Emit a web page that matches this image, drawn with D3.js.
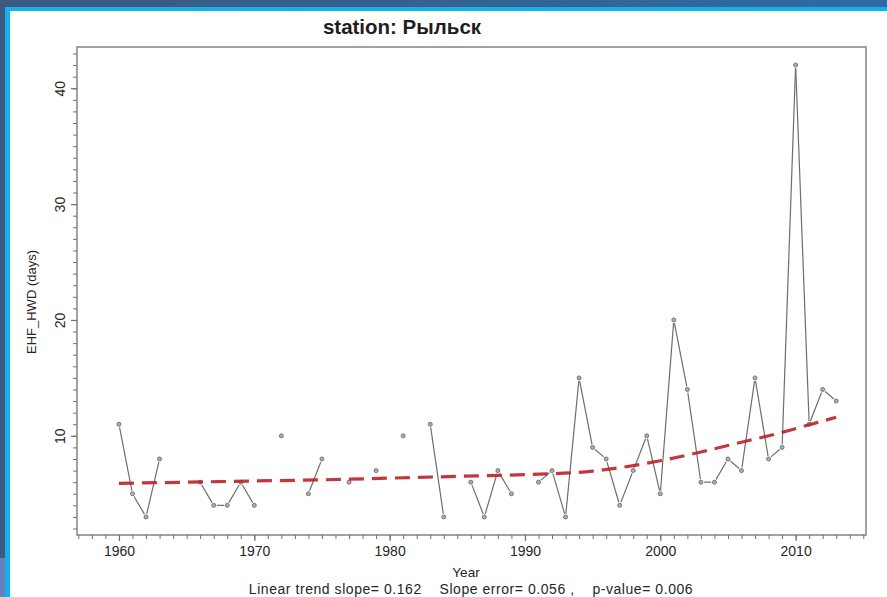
<!DOCTYPE html>
<html><head><meta charset="utf-8">
<script src="https://cdn.jsdelivr.net/npm/d3@7"></script>
<style>html,body{margin:0;padding:0;background:#fff;}svg{display:block;}</style>
</head><body>
<svg id="chart" width="887" height="597"></svg>
<script>
// ---- data ----
const years = [1960,1961,1962,1963,1964,1965,1966,1967,1968,1969,1970,1971,1972,1973,1974,1975,1976,1977,1978,1979,1980,1981,1982,1983,1984,1985,1986,1987,1988,1989,1990,1991,1992,1993,1994,1995,1996,1997,1998,1999,2000,2001,2002,2003,2004,2005,2006,2007,2008,2009,2010,2011,2012,2013];
const hwd = [11,5,3,8,null,null,6,4,4,6,4,null,10,null,5,8,null,6,null,7,null,10,null,11,3,null,6,3,7,5,null,6,7,3,15,9,8,4,7,10,5,20,14,6,6,8,7,15,8,9,42,11,14,13];
const trendYears = [1960,1965,1970,1975,1980,1985,1990,1995,2000,2003,2006,2009,2011,2013];
const trendValues = [5.9,6.0,6.1,6.2,6.35,6.5,6.65,6.95,7.85,8.6,9.45,10.3,10.95,11.6];
const xMajorTicks = [1960,1970,1980,1990,2000,2010];
const yMajorTicks = [10,20,30,40];
const titleText = "station: Рыльск";
const yLabel = "EHF_HWD (days)";
const xLabel = "Year";
const statsText = "Linear trend slope= 0.162    Slope error= 0.056 ,    p-value= 0.006";

// ---- layout ----
const svg = d3.select("#chart");
const W = 887, H = 597;
const box = {left: 77, right: 866, top: 47, bottom: 535};

// frame background
const defs = svg.append("defs");
const grad = defs.append("linearGradient").attr("id","topg").attr("x1","0").attr("x2","1").attr("y1","0").attr("y2","0");
grad.append("stop").attr("offset","0%").attr("stop-color","#3d5880");
grad.append("stop").attr("offset","100%").attr("stop-color","#2f6aa2");
svg.append("rect").attr("x",0).attr("y",0).attr("width",W).attr("height",H).attr("fill","url(#topg)");
svg.append("rect").attr("x",0).attr("y",30).attr("width",6).attr("height",528).attr("fill","#3d5a82");
svg.append("rect").attr("x",0).attr("y",558).attr("width",6).attr("height",H-558).attr("fill","#6b7fc0");
svg.append("rect").attr("x",5).attr("y",7).attr("width",W-5).attr("height",H-7).attr("fill","#14b2ea");
svg.append("rect").attr("x",10).attr("y",11).attr("width",W-10).attr("height",H-11).attr("fill","#ffffff");

const x = d3.scaleLinear().domain([1956.9, 2015.2]).range([box.left, box.right]);
const y = d3.scaleLinear().domain([1.44, 43.56]).range([box.bottom, box.top]);

const font = "'Liberation Sans', Arial, sans-serif";
const axisCol = "#707070";
const textCol = "#262626";

// plot box
svg.append("rect").attr("x",box.left).attr("y",box.top)
  .attr("width",box.right-box.left).attr("height",box.bottom-box.top)
  .attr("fill","none").attr("stroke","#8a8a8a").attr("stroke-width",1.6);

// x axis
const xMinor = d3.range(1957, 2016);
const xAxis = d3.axisBottom(x).tickValues(xMinor).tickSize(4).tickFormat("");
const gx = svg.append("g").attr("transform",`translate(0,${box.bottom})`).call(xAxis);
gx.select(".domain").remove();
gx.selectAll("line").attr("stroke",axisCol).attr("stroke-width",1);
const xAxisMaj = d3.axisBottom(x).tickValues(xMajorTicks).tickSize(6).tickPadding(5).tickFormat(d3.format("d"));
const gx2 = svg.append("g").attr("transform",`translate(0,${box.bottom})`).call(xAxisMaj);
gx2.select(".domain").remove();
gx2.selectAll("line").attr("stroke",axisCol).attr("stroke-width",1.2);
gx2.selectAll("text").attr("font-family",font).attr("font-size",14).attr("fill",textCol);

// y axis
const yMinor = d3.range(2, 44);
const yAxis = d3.axisLeft(y).tickValues(yMinor).tickSize(4).tickFormat("");
const gy = svg.append("g").attr("transform",`translate(${box.left},0)`).call(yAxis);
gy.select(".domain").remove();
gy.selectAll("line").attr("stroke",axisCol).attr("stroke-width",1);
const yAxisMaj = d3.axisLeft(y).tickValues(yMajorTicks).tickSize(6).tickFormat(d3.format("d"));
const gy2 = svg.append("g").attr("transform",`translate(${box.left},0)`).call(yAxisMaj);
gy2.select(".domain").remove();
gy2.selectAll("line").attr("stroke",axisCol).attr("stroke-width",1.2);
gy2.selectAll("text").attr("font-family",font).attr("font-size",14).attr("fill",textCol)
  .attr("x",0).attr("dy",0).attr("text-anchor","middle")
  .attr("transform","translate(-17,0) rotate(-90)")
  .attr("dominant-baseline","central");

// data segments (type "b": lines with gaps at points)
const pts = years.map((yr,i)=>({year:yr, v:hwd[i]}));
const gap = 3.2;
const segs = [];
for (let i=0;i<pts.length-1;i++){
  const a=pts[i], b=pts[i+1];
  if (a.v==null || b.v==null) continue;
  const x1=x(a.year), y1=y(a.v), x2=x(b.year), y2=y(b.v);
  const len=Math.hypot(x2-x1,y2-y1);
  if (len <= 2*gap) continue;
  const ux=(x2-x1)/len, uy=(y2-y1)/len;
  segs.push([x1+ux*gap, y1+uy*gap, x2-ux*gap, y2-uy*gap]);
}
svg.append("g").selectAll("line").data(segs).join("line")
  .attr("x1",d=>d[0]).attr("y1",d=>d[1]).attr("x2",d=>d[2]).attr("y2",d=>d[3])
  .attr("stroke","#6e6e6e").attr("stroke-width",1.2);

svg.append("g").selectAll("circle").data(pts.filter(d=>d.v!=null)).join("circle")
  .attr("cx",d=>x(d.year)).attr("cy",d=>y(d.v)).attr("r",2)
  .attr("fill","#b0b0b0").attr("stroke","#6a6a6a").attr("stroke-width",0.9);

// trend
const trend = trendYears.map((yr,i)=>({year:yr, v:trendValues[i]}));
svg.append("path").datum(trend)
  .attr("d", d3.line().x(d=>x(d.year)).y(d=>y(d.v)).curve(d3.curveMonotoneX))
  .attr("fill","none").attr("stroke","#be252b").attr("stroke-width",3.2)
  .attr("stroke-dasharray","15,8").attr("opacity",0.92);

// texts
svg.append("text").attr("x",402).attr("y",34).attr("text-anchor","middle")
  .attr("font-family",font).attr("font-weight","bold").attr("font-size",20.5).attr("fill","#1e1e1e")
  .text(titleText);
svg.append("text").attr("transform",`translate(36,302) rotate(-90)`).attr("text-anchor","middle")
  .attr("font-family",font).attr("font-size",13).attr("fill",textCol).text(yLabel);
svg.append("text").attr("x",466).attr("y",577).attr("text-anchor","middle")
  .attr("font-family",font).attr("font-size",13.5).attr("fill",textCol).text(xLabel);
svg.append("text").attr("x",471).attr("y",594).attr("text-anchor","middle")
  .attr("font-family",font).attr("font-size",14).attr("letter-spacing",0.55).attr("fill",textCol)
  .style("white-space","pre").text(statsText);
</script>
</body></html>
